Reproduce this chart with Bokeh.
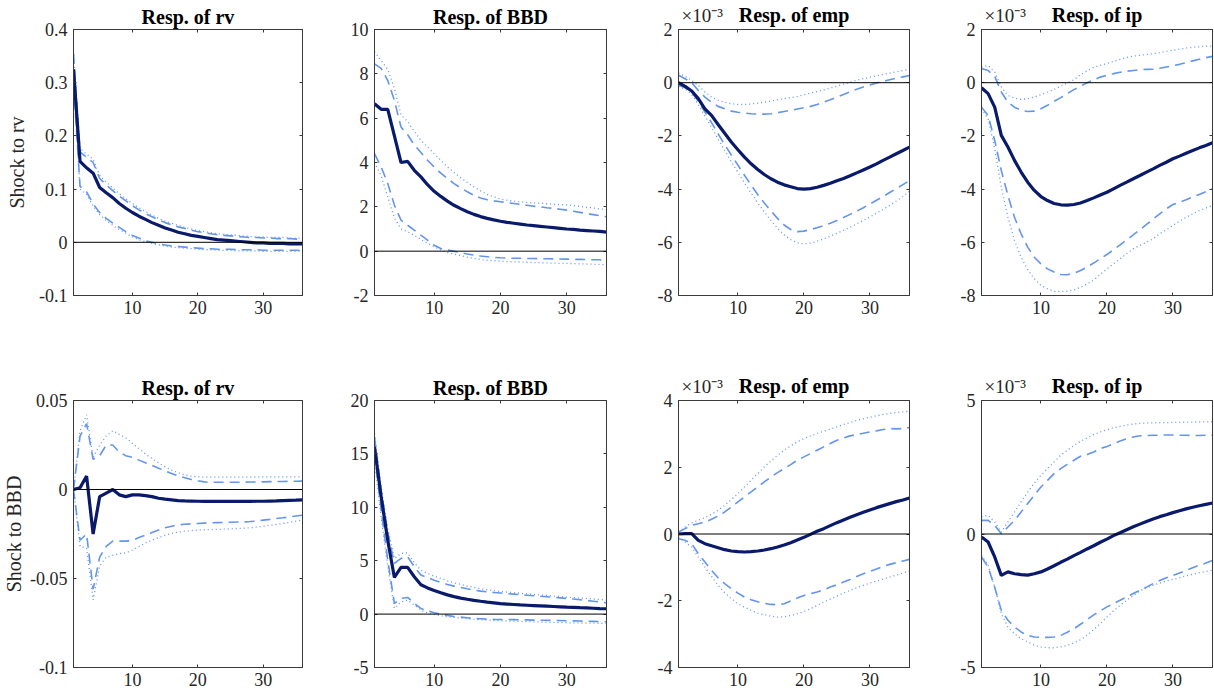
from bokeh.plotting import figure
from bokeh.layouts import gridplot
from bokeh.models import Range1d, FixedTicker, Span, LinearAxis, CustomLabelingPolicy
from bokeh.embed import file_html
from bokeh.resources import INLINE

# ---------------- data ----------------
horizon = list(range(1, 37))
x_ticks = [10, 20, 30]
x_tick_labels = ["10", "20", "30"]

# Row 1: shock to rv
rv_rv_med = [0.325, 0.152, 0.140, 0.130, 0.103, 0.093, 0.084, 0.073, 0.064, 0.056, 0.049, 0.043,
             0.037, 0.032, 0.027, 0.023, 0.019, 0.016, 0.013, 0.011, 0.009, 0.007, 0.005, 0.004,
             0.003, 0.002, 0.001, 0.000, -0.001, -0.001, -0.002, -0.002, -0.002, -0.003, -0.003, -0.003]
rv_rv_up68 = [0.355, 0.170, 0.160, 0.150, 0.120, 0.108, 0.097, 0.087, 0.078, 0.069, 0.061, 0.054,
              0.048, 0.042, 0.037, 0.033, 0.029, 0.026, 0.023, 0.020, 0.018, 0.016, 0.014, 0.013,
              0.012, 0.011, 0.010, 0.009, 0.009, 0.008, 0.008, 0.007, 0.007, 0.007, 0.006, 0.006]
rv_rv_up90 = [0.360, 0.176, 0.166, 0.156, 0.126, 0.113, 0.102, 0.091, 0.082, 0.073, 0.065, 0.058,
              0.051, 0.045, 0.040, 0.036, 0.032, 0.028, 0.025, 0.022, 0.020, 0.018, 0.016, 0.015,
              0.014, 0.013, 0.012, 0.011, 0.010, 0.010, 0.009, 0.009, 0.009, 0.008, 0.008, 0.008]
rv_rv_lo68 = [0.300, 0.105, 0.095, 0.072, 0.056, 0.045, 0.036, 0.028, 0.020, 0.013, 0.008, 0.003,
              0.000, -0.003, -0.005, -0.007, -0.008, -0.009, -0.010, -0.011, -0.012, -0.012, -0.013, -0.013,
              -0.013, -0.014, -0.014, -0.014, -0.014, -0.015, -0.015, -0.015, -0.015, -0.015, -0.015, -0.015]
rv_rv_lo90 = [0.295, 0.100, 0.090, 0.068, 0.052, 0.041, 0.032, 0.024, 0.017, 0.010, 0.005, 0.001,
              -0.002, -0.005, -0.007, -0.009, -0.010, -0.011, -0.012, -0.013, -0.014, -0.014, -0.015, -0.015,
              -0.015, -0.016, -0.016, -0.016, -0.016, -0.017, -0.017, -0.017, -0.017, -0.017, -0.017, -0.017]

bbd_rv_med = [6.65, 6.40, 6.40, 5.20, 4.00, 4.05, 3.65, 3.35, 3.00, 2.70, 2.47, 2.26,
              2.07, 1.92, 1.78, 1.66, 1.56, 1.48, 1.41, 1.35, 1.30, 1.26, 1.22, 1.18,
              1.15, 1.12, 1.09, 1.06, 1.03, 1.00, 0.98, 0.95, 0.93, 0.91, 0.89, 0.86]
bbd_rv_up68 = [8.45, 8.25, 7.70, 6.80, 5.60, 5.25, 4.80, 4.45, 4.10, 3.80, 3.52, 3.28,
               3.05, 2.85, 2.68, 2.52, 2.40, 2.32, 2.27, 2.23, 2.19, 2.15, 2.11, 2.07,
               2.03, 2.00, 1.96, 1.93, 1.89, 1.85, 1.80, 1.75, 1.70, 1.65, 1.60, 1.55]
bbd_rv_up90 = [9.00, 8.60, 8.20, 7.35, 6.15, 5.85, 5.40, 5.00, 4.70, 4.40, 4.10, 3.80,
               3.55, 3.32, 3.10, 2.90, 2.72, 2.56, 2.45, 2.35, 2.30, 2.26, 2.23, 2.20,
               2.18, 2.16, 2.14, 2.12, 2.10, 2.09, 2.06, 2.02, 1.98, 1.95, 1.91, 1.88]
bbd_rv_lo68 = [4.40, 3.80, 3.05, 2.08, 1.40, 1.17, 0.95, 0.72, 0.50, 0.27, 0.12, 0.05,
               0.00, -0.06, -0.13, -0.18, -0.22, -0.25, -0.28, -0.30, -0.31, -0.32, -0.32, -0.33,
               -0.33, -0.34, -0.34, -0.35, -0.35, -0.36, -0.37, -0.37, -0.38, -0.39, -0.39, -0.40]
bbd_rv_lo90 = [4.00, 3.40, 2.45, 1.50, 1.00, 0.87, 0.72, 0.53, 0.35, 0.20, 0.05, -0.06,
               -0.13, -0.20, -0.28, -0.33, -0.37, -0.41, -0.43, -0.45, -0.47, -0.48, -0.49, -0.50,
               -0.51, -0.52, -0.53, -0.54, -0.55, -0.55, -0.56, -0.57, -0.58, -0.59, -0.60, -0.62]

# values in units of 1e-3
emp_rv_med = [0.00, -0.14, -0.31, -0.60, -0.98, -1.23, -1.57, -1.90, -2.23, -2.52, -2.80, -3.05,
              -3.26, -3.45, -3.61, -3.74, -3.84, -3.91, -3.98, -4.00, -3.98, -3.93, -3.86, -3.78,
              -3.69, -3.60, -3.50, -3.39, -3.28, -3.17, -3.05, -2.92, -2.80, -2.67, -2.55, -2.42]
emp_rv_up68 = [0.28, 0.15, 0.00, -0.29, -0.54, -0.73, -0.89, -0.98, -1.07, -1.11, -1.14, -1.17,
               -1.18, -1.18, -1.17, -1.13, -1.08, -1.04, -0.99, -0.94, -0.89, -0.82, -0.73, -0.64,
               -0.54, -0.44, -0.34, -0.25, -0.16, -0.09, -0.01, 0.05, 0.11, 0.17, 0.22, 0.27]
emp_rv_up90 = [0.36, 0.24, 0.09, -0.10, -0.35, -0.54, -0.66, -0.74, -0.79, -0.82, -0.82, -0.80,
               -0.77, -0.73, -0.69, -0.64, -0.60, -0.56, -0.52, -0.45, -0.39, -0.33, -0.27, -0.20,
               -0.13, -0.05, 0.02, 0.09, 0.15, 0.21, 0.26, 0.31, 0.36, 0.41, 0.46, 0.51]
emp_rv_lo68 = [-0.10, -0.19, -0.35, -0.70, -1.10, -1.50, -1.92, -2.33, -2.72, -3.10, -3.48, -3.85,
               -4.20, -4.52, -4.82, -5.10, -5.35, -5.52, -5.60, -5.58, -5.52, -5.45, -5.37, -5.28,
               -5.18, -5.07, -4.95, -4.83, -4.70, -4.56, -4.42, -4.28, -4.13, -3.98, -3.83, -3.68]
emp_rv_lo90 = [-0.14, -0.24, -0.44, -0.82, -1.25, -1.68, -2.12, -2.55, -2.97, -3.37, -3.77, -4.15,
               -4.52, -4.86, -5.18, -5.47, -5.72, -5.90, -6.02, -6.06, -6.03, -5.96, -5.87, -5.77,
               -5.66, -5.55, -5.43, -5.31, -5.18, -5.05, -4.91, -4.76, -4.61, -4.45, -4.28, -4.08]

ip_rv_med = [-0.19, -0.41, -0.92, -1.98, -2.42, -2.92, -3.36, -3.74, -4.05, -4.28, -4.43, -4.54,
             -4.59, -4.60, -4.58, -4.52, -4.43, -4.33, -4.22, -4.12, -3.99, -3.86, -3.74, -3.61,
             -3.49, -3.36, -3.24, -3.11, -2.99, -2.86, -2.76, -2.65, -2.55, -2.45, -2.36, -2.26]
ip_rv_up68 = [0.53, 0.46, 0.24, -0.35, -0.73, -0.92, -1.04, -1.08, -1.07, -0.98, -0.85, -0.70,
              -0.56, -0.41, -0.26, -0.13, 0.00, 0.11, 0.21, 0.28, 0.34, 0.39, 0.43, 0.46,
              0.49, 0.50, 0.51, 0.54, 0.59, 0.64, 0.69, 0.75, 0.82, 0.88, 0.94, 0.99]
ip_rv_up90 = [0.59, 0.65, 0.40, -0.16, -0.48, -0.58, -0.63, -0.60, -0.54, -0.45, -0.35, -0.25,
              -0.13, -0.01, 0.11, 0.30, 0.45, 0.58, 0.65, 0.72, 0.80, 0.88, 0.95, 1.00,
              1.03, 1.06, 1.09, 1.13, 1.18, 1.22, 1.26, 1.30, 1.33, 1.35, 1.37, 1.38]
ip_rv_lo68 = [-0.92, -1.23, -2.17, -3.30, -4.24, -5.06, -5.68, -6.18, -6.56, -6.81, -7.00, -7.12,
              -7.21, -7.22, -7.16, -7.06, -6.93, -6.78, -6.62, -6.46, -6.28, -6.10, -5.91, -5.72,
              -5.53, -5.33, -5.13, -4.93, -4.74, -4.58, -4.49, -4.40, -4.30, -4.20, -4.10, -3.99]
ip_rv_lo90 = [-0.98, -1.36, -2.48, -3.93, -5.06, -5.93, -6.56, -7.03, -7.37, -7.62, -7.75, -7.84,
              -7.85, -7.84, -7.79, -7.69, -7.56, -7.42, -7.21, -7.00, -6.81, -6.62, -6.43, -6.24,
              -6.12, -6.00, -5.87, -5.68, -5.53, -5.37, -5.20, -5.06, -4.93, -4.81, -4.71, -4.62]

# Row 2: shock to BBD
rv_bbd_med = [0.0000, 0.0010, 0.0075, -0.0250, -0.0040, -0.0020, 0.0000, -0.0030, -0.0040, -0.0030, -0.0030, -0.0034,
              -0.0040, -0.0049, -0.0054, -0.0058, -0.0062, -0.0064, -0.0065, -0.0066, -0.0067, -0.0067, -0.0067, -0.0067,
              -0.0067, -0.0067, -0.0067, -0.0067, -0.0066, -0.0066, -0.0065, -0.0064, -0.0062, -0.0061, -0.0060, -0.0058]
rv_bbd_up68 = [0.0000, 0.0300, 0.0370, 0.0170, 0.0190, 0.0250, 0.0250, 0.0210, 0.0190, 0.0180, 0.0165, 0.0150,
               0.0135, 0.0120, 0.0105, 0.0090, 0.0077, 0.0066, 0.0056, 0.0049, 0.0043, 0.0041, 0.0041, 0.0041,
               0.0041, 0.0041, 0.0041, 0.0042, 0.0042, 0.0043, 0.0044, 0.0045, 0.0045, 0.0046, 0.0046, 0.0047]
rv_bbd_up90 = [0.0000, 0.0330, 0.0420, 0.0180, 0.0250, 0.0300, 0.0330, 0.0310, 0.0290, 0.0260, 0.0230, 0.0200,
               0.0174, 0.0150, 0.0127, 0.0109, 0.0094, 0.0082, 0.0075, 0.0071, 0.0069, 0.0069, 0.0069, 0.0069,
               0.0069, 0.0069, 0.0070, 0.0070, 0.0071, 0.0071, 0.0071, 0.0071, 0.0071, 0.0071, 0.0071, 0.0071]
rv_bbd_lo68 = [0.0000, -0.0285, -0.0250, -0.0560, -0.0380, -0.0320, -0.0290, -0.0290, -0.0290, -0.0285, -0.0270, -0.0257,
               -0.0242, -0.0228, -0.0215, -0.0206, -0.0199, -0.0195, -0.0193, -0.0191, -0.0189, -0.0187, -0.0186, -0.0185,
               -0.0184, -0.0183, -0.0182, -0.0180, -0.0177, -0.0172, -0.0168, -0.0163, -0.0159, -0.0154, -0.0149, -0.0144]
rv_bbd_lo90 = [0.0000, -0.0320, -0.0330, -0.0620, -0.0430, -0.0380, -0.0370, -0.0360, -0.0356, -0.0340, -0.0320, -0.0300,
               -0.0285, -0.0270, -0.0257, -0.0247, -0.0240, -0.0234, -0.0231, -0.0228, -0.0226, -0.0225, -0.0224, -0.0223,
               -0.0221, -0.0219, -0.0217, -0.0215, -0.0211, -0.0206, -0.0201, -0.0196, -0.0191, -0.0185, -0.0178, -0.0172]

bbd_bbd_med = [15.67, 11.00, 6.90, 3.43, 4.37, 4.37, 3.50, 2.75, 2.45, 2.22, 2.00, 1.80,
               1.64, 1.50, 1.39, 1.29, 1.20, 1.12, 1.05, 0.98, 0.94, 0.90, 0.86, 0.83,
               0.80, 0.77, 0.74, 0.71, 0.68, 0.65, 0.63, 0.60, 0.58, 0.55, 0.52, 0.50]
bbd_bbd_up68 = [16.60, 11.60, 7.70, 4.74, 5.21, 5.37, 4.43, 3.65, 3.43, 3.18, 2.97, 2.78,
                2.62, 2.50, 2.37, 2.25, 2.15, 2.08, 2.02, 1.97, 1.92, 1.87, 1.82, 1.77,
                1.72, 1.67, 1.62, 1.57, 1.52, 1.47, 1.41, 1.35, 1.28, 1.21, 1.13, 1.05]
bbd_bbd_up90 = [16.90, 11.90, 8.00, 5.20, 5.68, 5.74, 4.80, 4.12, 3.80, 3.56, 3.34, 3.12,
                2.93, 2.78, 2.62, 2.50, 2.37, 2.28, 2.20, 2.12, 2.06, 2.00, 1.95, 1.89,
                1.84, 1.79, 1.74, 1.69, 1.64, 1.59, 1.55, 1.51, 1.47, 1.42, 1.37, 1.31]
bbd_bbd_lo68 = [15.00, 9.74, 5.06, 1.00, 1.47, 1.56, 1.00, 0.53, 0.31, 0.12, 0.00, -0.12,
                -0.22, -0.28, -0.34, -0.41, -0.44, -0.47, -0.49, -0.50, -0.51, -0.52, -0.53, -0.54,
                -0.56, -0.57, -0.58, -0.59, -0.60, -0.62, -0.63, -0.65, -0.67, -0.68, -0.70, -0.72]
bbd_bbd_lo90 = [14.40, 9.10, 4.43, 0.53, 1.15, 1.31, 0.84, 0.37, 0.12, -0.03, -0.16, -0.25,
                -0.31, -0.37, -0.44, -0.50, -0.53, -0.56, -0.59, -0.62, -0.64, -0.66, -0.68, -0.70,
                -0.72, -0.74, -0.76, -0.78, -0.79, -0.81, -0.82, -0.83, -0.84, -0.85, -0.86, -0.87]

emp_bbd_med = [0.00, 0.01, 0.01, -0.19, -0.29, -0.35, -0.41, -0.47, -0.51, -0.53, -0.54, -0.53,
               -0.51, -0.48, -0.44, -0.39, -0.33, -0.26, -0.18, -0.10, -0.01, 0.08, 0.16, 0.25,
               0.34, 0.42, 0.50, 0.58, 0.65, 0.72, 0.79, 0.85, 0.91, 0.97, 1.02, 1.08]
emp_bbd_up68 = [0.06, 0.16, 0.26, 0.31, 0.36, 0.44, 0.54, 0.66, 0.81, 0.96, 1.11, 1.26,
                1.41, 1.56, 1.71, 1.84, 1.96, 2.08, 2.21, 2.31, 2.41, 2.51, 2.61, 2.71,
                2.81, 2.88, 2.94, 2.98, 3.02, 3.06, 3.09, 3.13, 3.16, 3.15, 3.16, 3.19]
emp_bbd_up90 = [0.06, 0.21, 0.33, 0.41, 0.49, 0.59, 0.71, 0.86, 1.03, 1.21, 1.41, 1.61,
                1.81, 2.01, 2.19, 2.36, 2.51, 2.64, 2.76, 2.86, 2.94, 3.01, 3.08, 3.14,
                3.21, 3.28, 3.34, 3.40, 3.45, 3.50, 3.54, 3.58, 3.61, 3.64, 3.66, 3.68]
emp_bbd_lo68 = [-0.14, -0.19, -0.29, -0.59, -0.84, -1.09, -1.31, -1.49, -1.64, -1.77, -1.89, -1.97,
                -2.03, -2.08, -2.11, -2.12, -2.09, -2.01, -1.92, -1.84, -1.79, -1.74, -1.67, -1.59,
                -1.52, -1.44, -1.36, -1.27, -1.19, -1.12, -1.05, -0.97, -0.91, -0.86, -0.81, -0.76]
emp_bbd_lo90 = [-0.09, -0.24, -0.39, -0.69, -0.99, -1.27, -1.54, -1.76, -1.94, -2.09, -2.19, -2.29,
                -2.37, -2.42, -2.46, -2.49, -2.48, -2.44, -2.39, -2.32, -2.24, -2.14, -2.04, -1.95,
                -1.86, -1.77, -1.69, -1.61, -1.54, -1.47, -1.41, -1.35, -1.29, -1.23, -1.17, -1.11]

ip_bbd_med = [-0.11, -0.30, -0.86, -1.55, -1.42, -1.49, -1.52, -1.54, -1.49, -1.42, -1.31, -1.19,
              -1.06, -0.94, -0.81, -0.69, -0.56, -0.44, -0.31, -0.19, -0.06, 0.05, 0.16, 0.27,
              0.37, 0.47, 0.56, 0.65, 0.72, 0.80, 0.87, 0.94, 1.00, 1.06, 1.11, 1.16]
ip_bbd_up68 = [0.51, 0.51, 0.32, 0.01, 0.26, 0.51, 0.82, 1.14, 1.45, 1.76, 2.01, 2.26,
               2.45, 2.61, 2.76, 2.91, 2.98, 3.07, 3.20, 3.28, 3.38, 3.48, 3.57, 3.63,
               3.68, 3.69, 3.70, 3.70, 3.71, 3.71, 3.70, 3.70, 3.69, 3.69, 3.70, 3.70]
ip_bbd_up90 = [0.64, 0.70, 0.45, 0.07, 0.45, 0.82, 1.20, 1.57, 1.91, 2.20, 2.45, 2.70,
               2.95, 3.13, 3.32, 3.47, 3.60, 3.72, 3.82, 3.91, 3.98, 4.03, 4.08, 4.12,
               4.14, 4.16, 4.16, 4.17, 4.17, 4.18, 4.18, 4.19, 4.19, 4.20, 4.20, 4.21]
ip_bbd_lo68 = [-0.86, -1.24, -1.99, -2.86, -3.23, -3.48, -3.67, -3.80, -3.86, -3.87, -3.87, -3.86,
               -3.80, -3.68, -3.55, -3.38, -3.21, -3.03, -2.88, -2.73, -2.61, -2.48, -2.36, -2.23,
               -2.11, -1.99, -1.86, -1.74, -1.64, -1.55, -1.46, -1.36, -1.26, -1.17, -1.09, -0.99]
ip_bbd_lo90 = [-0.80, -1.17, -1.99, -2.98, -3.48, -3.73, -3.92, -4.04, -4.17, -4.23, -4.26, -4.26,
               -4.23, -4.17, -4.08, -3.96, -3.80, -3.58, -3.36, -3.11, -2.88, -2.67, -2.48, -2.30,
               -2.13, -2.01, -1.92, -1.84, -1.76, -1.70, -1.64, -1.57, -1.51, -1.45, -1.40, -1.36]

# y-axis ticks / labels
rv_rv_ticks = [-0.1, 0, 0.1, 0.2, 0.3, 0.4]
rv_rv_labels = ["-0.1", "0", "0.1", "0.2", "0.3", "0.4"]
bbd_rv_ticks = [-2, 0, 2, 4, 6, 8, 10]
bbd_rv_labels = ["-2", "0", "2", "4", "6", "8", "10"]
emp_rv_ticks = [-8, -6, -4, -2, 0, 2]
emp_rv_labels = ["-8", "-6", "-4", "-2", "0", "2"]
ip_rv_ticks = [-8, -6, -4, -2, 0, 2]
ip_rv_labels = ["-8", "-6", "-4", "-2", "0", "2"]
rv_bbd_ticks = [-0.1, -0.05, 0, 0.05]
rv_bbd_labels = ["-0.1", "-0.05", "0", "0.05"]
bbd_bbd_ticks = [-5, 0, 5, 10, 15, 20]
bbd_bbd_labels = ["-5", "0", "5", "10", "15", "20"]
emp_bbd_ticks = [-4, -2, 0, 2, 4]
emp_bbd_labels = ["-4", "-2", "0", "2", "4"]
ip_bbd_ticks = [-5, 0, 5]
ip_bbd_labels = ["-5", "0", "5"]

titles = ["Resp. of rv", "Resp. of BBD", "Resp. of emp", "Resp. of ip"]
row_labels = ["Shock to rv", "Shock to BBD"]
exponent_label = "\u00d710\u207b\u00b3"

panels = [
    [
        (rv_rv_med, rv_rv_up68, rv_rv_up90, rv_rv_lo68, rv_rv_lo90, rv_rv_ticks, rv_rv_labels, False),
        (bbd_rv_med, bbd_rv_up68, bbd_rv_up90, bbd_rv_lo68, bbd_rv_lo90, bbd_rv_ticks, bbd_rv_labels, False),
        (emp_rv_med, emp_rv_up68, emp_rv_up90, emp_rv_lo68, emp_rv_lo90, emp_rv_ticks, emp_rv_labels, True),
        (ip_rv_med, ip_rv_up68, ip_rv_up90, ip_rv_lo68, ip_rv_lo90, ip_rv_ticks, ip_rv_labels, True),
    ],
    [
        (rv_bbd_med, rv_bbd_up68, rv_bbd_up90, rv_bbd_lo68, rv_bbd_lo90, rv_bbd_ticks, rv_bbd_labels, False),
        (bbd_bbd_med, bbd_bbd_up68, bbd_bbd_up90, bbd_bbd_lo68, bbd_bbd_lo90, bbd_bbd_ticks, bbd_bbd_labels, False),
        (emp_bbd_med, emp_bbd_up68, emp_bbd_up90, emp_bbd_lo68, emp_bbd_lo90, emp_bbd_ticks, emp_bbd_labels, True),
        (ip_bbd_med, ip_bbd_up68, ip_bbd_up90, ip_bbd_lo68, ip_bbd_lo90, ip_bbd_ticks, ip_bbd_labels, True),
    ],
]

# ---------------- styling ----------------
FONT = "Liberation Serif"
TXT = "#262626"
BOX = "#3a3a3a"
NAVY = "#0a1a6b"
BAND = "#6495ED"

col_widths = [303, 304, 303, 303]
row_heights = [350, 350]
row_borders = [(29, 55), (50, 33)]  # (top, bottom)
label_standoff = [8, 2]
EXP_POS = 4.6          # horizon at which the exponent text is centred
EXP_STANDOFF = 4
TITLE_STANDOFF = 2
EXP_HEIGHT = 22        # approx. height Bokeh reserves for the exponent tick label


def box_axis(tk):
    # tick marks only (MATLAB "box on"); labels filtered out entirely
    return LinearAxis(ticker=FixedTicker(ticks=tk), major_label_text_font_size="0px",
                      major_label_standoff=0, major_tick_in=3, major_tick_out=0,
                      minor_tick_line_color=None, axis_line_color=BOX,
                      major_tick_line_color=BOX,
                      major_label_policy=CustomLabelingPolicy(code="if (false) { yield 0 }"))


def head_axis(title, has_exp):
    # panel title (axis label) + optional x10^-3 exponent (tick label) on the same line
    tk = [EXP_POS] if has_exp else []
    ax = LinearAxis(ticker=FixedTicker(ticks=tk), axis_line_color=None,
                    major_tick_line_color=None, minor_tick_line_color=None,
                    major_tick_in=0, major_tick_out=0,
                    major_label_standoff=EXP_STANDOFF, major_label_text_font=FONT,
                    major_label_text_font_size="19px", major_label_text_color=TXT,
                    axis_label=title, axis_label_text_font=FONT,
                    axis_label_text_font_style="bold", axis_label_text_font_size="20px",
                    axis_label_text_color="black",
                    axis_label_standoff=(TITLE_STANDOFF - EXP_STANDOFF - EXP_HEIGHT) if has_exp else TITLE_STANDOFF)
    if has_exp:
        ax.major_label_overrides = {EXP_POS: exponent_label}
    return ax


grid = []
for r, row in enumerate(panels):
    figs = []
    H = row_heights[r]
    top_border = row_borders[r][0]
    for c, (med, up68, up90, lo68, lo90, ticks, labels, has_exp) in enumerate(row):
        ymin, ymax = ticks[0], ticks[-1]
        p = figure(width=col_widths[c], height=H, output_backend="svg",
                   toolbar_location=None, tools="", title=None,
                   x_range=Range1d(1, 36), y_range=Range1d(ymin, ymax),
                   min_border_left=71, min_border_right=1,
                   min_border_top=top_border, min_border_bottom=row_borders[r][1])
        p.background_fill_color = "white"
        p.border_fill_color = "white"
        p.outline_line_color = BOX
        p.outline_line_width = 1
        p.xgrid.visible = False
        p.ygrid.visible = False

        for ax, tk, lb in ((p.xaxis[0], x_ticks, x_tick_labels), (p.yaxis[0], ticks, labels)):
            ax.ticker = FixedTicker(ticks=tk)
            ax.major_label_overrides = dict(zip(tk, lb))
            ax.major_label_text_font = FONT
            ax.major_label_text_font_size = "18px"
            ax.major_label_text_color = TXT
            ax.axis_line_color = BOX
            ax.major_tick_line_color = BOX
            ax.major_tick_in = 3
            ax.major_tick_out = 0
            ax.minor_tick_line_color = None
        p.xaxis.major_label_standoff = 5
        p.yaxis.major_label_standoff = 6

        if c == 0:
            p.yaxis.axis_label = row_labels[r]
            p.yaxis.axis_label_text_font = FONT
            p.yaxis.axis_label_text_font_style = "normal"
            p.yaxis.axis_label_text_font_size = "20px"
            p.yaxis.axis_label_text_color = TXT
            p.yaxis.axis_label_standoff = label_standoff[r]

        p.add_layout(box_axis(x_ticks), "above")
        p.add_layout(head_axis(titles[c], has_exp), "above")
        p.add_layout(box_axis(ticks), "right")

        p.add_layout(Span(location=0, dimension="width", line_color="black", line_width=1))

        for band in (up90, lo90):
            p.line(horizon, band, line_color=BAND, line_width=1.3, line_dash="1 3")
        for band in (up68, lo68):
            p.line(horizon, band, line_color=BAND, line_width=1.6, line_dash="10 6")
        p.line(horizon, med, line_color=NAVY, line_width=3.2)
        figs.append(p)
    grid.append(figs)

layout = gridplot(grid, toolbar_location=None)
open("out.html", "w").write(file_html(layout, INLINE))
